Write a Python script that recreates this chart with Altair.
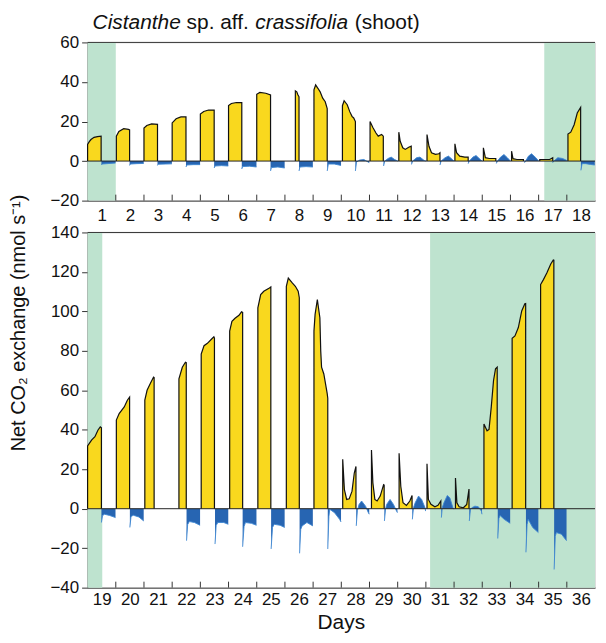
import altair as alt
import pandas as pd

# ---------------- data (time offset within day, net CO2 exchange) ----------------
TOP_LIGHT = [
    [(0.0, 8.4), (0.06, 9.8), (0.12, 10.9), (0.23, 12.0), (0.35, 12.4), (0.48, 12.6)],
    [(0.02, 12.6), (0.11, 15.0), (0.28, 16.4), (0.45, 16.0), (0.49, 15.8)],
    [(0.0, 16.7), (0.1, 18.0), (0.27, 18.8), (0.48, 18.6)],
    [(0.0, 19.3), (0.14, 21.4), (0.31, 22.3), (0.49, 22.3)],
    [(0.0, 23.8), (0.12, 25.1), (0.29, 25.8), (0.49, 25.8)],
    [(0.0, 28.1), (0.1, 29.1), (0.28, 29.6), (0.47, 29.6)],
    [(0.0, 33.8), (0.11, 34.7), (0.32, 34.3), (0.49, 33.5)],
    [(0.37, 35.5), (0.42, 35.0), (0.46, 33.5), (0.5, 32.5)],
    [(0.03, 36.0), (0.09, 38.5), (0.17, 36.8), (0.25, 35.0), (0.34, 31.8), (0.43, 30.0), (0.5, 26.5)],
    [(0.04, 28.0), (0.1, 30.5), (0.21, 28.5), (0.3, 25.0), (0.38, 22.6), (0.44, 21.8), (0.5, 20.0)],
    [(0.02, 20.0), (0.12, 17.0), (0.23, 14.2), (0.31, 12.6), (0.43, 13.4), (0.49, 12.6)],
    [(0.04, 14.6), (0.09, 10.0), (0.18, 6.7), (0.27, 5.9), (0.39, 7.0), (0.48, 7.5)],
    [(0.04, 13.4), (0.11, 7.5), (0.2, 4.2), (0.34, 3.4), (0.46, 3.7), (0.5, 4.2)],
    [(0.03, 8.7), (0.09, 4.2), (0.2, 2.5), (0.38, 2.0), (0.5, 2.0)],
    [(0.04, 6.7), (0.11, 1.7), (0.25, 1.3), (0.48, 1.3)],
    [(0.04, 5.0), (0.09, 1.2), (0.23, 0.8), (0.46, 0.8)],
    [(0.04, 0.8), (0.39, 0.8), (0.5, 1.7)],
    [(0.04, 13.7), (0.14, 14.6), (0.26, 18.4), (0.37, 24.3), (0.49, 27.1)],
]

TOP_DARK = [
    [(0.49, -2.0), (0.52, -1.5), (0.7, -1.3), (0.99, -1.0)],
    [(0.49, -2.2), (0.52, -1.5), (0.75, -1.3), (0.99, -1.2)],
    [(0.48, -2.2), (0.51, -1.6), (0.75, -1.5), (0.99, -1.4)],
    [(0.49, -3.0), (0.52, -2.0), (0.75, -1.8), (0.99, -1.8)],
    [(0.49, -3.5), (0.52, -2.5), (0.75, -2.3), (0.99, -2.5)],
    [(0.47, -4.0), (0.5, -2.8), (0.75, -2.6), (0.99, -3.0)],
    [(0.49, -5.0), (0.52, -3.3), (0.75, -3.0), (0.99, -3.5)],
    [(0.5, -5.0), (0.53, -3.0), (0.75, -2.8), (0.99, -3.0)],
    [(0.5, -5.0), (0.54, -1.5), (0.75, -1.5), (0.99, -2.2)],
    [(0.5, -5.0), (0.54, -0.5), (0.65, 0.5), (0.8, 0.8), (0.99, -0.8)],
    [(0.5, -2.5), (0.54, 0.0), (0.66, 1.3), (0.77, 2.0), (0.89, 0.8), (1.0, 0.0)],
    [(0.49, -1.7), (0.53, 0.0), (0.67, 1.7), (0.79, 2.0), (0.94, 0.3), (1.0, 0.0)],
    [(0.5, -2.0), (0.54, 0.0), (0.68, 1.7), (0.8, 2.5), (0.94, 0.8), (1.0, 0.0)],
    [(0.5, -1.3), (0.54, 0.0), (0.67, 2.0), (0.78, 2.8), (0.93, 0.8), (1.0, 0.0)],
    [(0.5, -1.2), (0.54, 0.0), (0.65, 2.0), (0.77, 3.3), (0.89, 1.7), (1.0, 0.0)],
    [(0.5, -0.8), (0.54, 0.0), (0.64, 2.5), (0.75, 3.7), (0.9, 1.7), (1.0, 0.0)],
    [(0.5, -0.8), (0.54, 0.0), (0.68, 1.7), (0.85, 1.3), (1.0, 0.3)],
    [(0.5, -4.7), (0.54, -1.3), (0.66, -1.3), (0.84, -1.7), (0.99, -2.0)],
]

BOTTOM_LIGHT = [
    [(0.0, 31.8), (0.14, 34.8), (0.26, 36.5), (0.37, 39.9), (0.45, 41.5), (0.49, 41.0)],
    [(0.02, 44.9), (0.12, 48.2), (0.3, 51.6), (0.41, 55.0), (0.49, 56.6)],
    [(0.03, 55.0), (0.11, 60.0), (0.22, 63.3), (0.34, 66.7), (0.36, 66.5)],
    [(0.24, 65.8), (0.36, 71.7), (0.47, 74.2), (0.5, 74.0)],
    [(0.03, 78.4), (0.13, 82.6), (0.25, 83.8), (0.4, 86.0), (0.48, 87.1), (0.5, 86.5)],
    [(0.04, 90.0), (0.12, 95.0), (0.23, 96.5), (0.37, 98.0), (0.46, 99.8), (0.5, 99.5)],
    [(0.04, 101.8), (0.14, 108.5), (0.25, 110.2), (0.45, 111.9), (0.5, 112.4)],
    [(0.05, 112.7), (0.12, 116.9), (0.26, 114.4), (0.37, 112.7), (0.47, 110.2), (0.51, 106.9)],
    [(0.03, 90.0), (0.07, 98.5), (0.15, 106.0), (0.24, 96.8), (0.27, 80.0), (0.3, 71.7), (0.38, 68.3), (0.5, 58.3), (0.52, 56.0)],
    [(0.05, 25.1), (0.11, 9.7), (0.19, 4.7), (0.28, 5.0), (0.38, 8.9), (0.46, 18.1), (0.52, 21.4)],
    [(0.07, 29.8), (0.12, 13.1), (0.19, 4.7), (0.27, 3.9), (0.38, 6.4), (0.5, 12.2), (0.52, 12.0)],
    [(0.05, 28.1), (0.11, 11.4), (0.19, 3.0), (0.31, 1.7), (0.43, 3.9), (0.51, 6.7)],
    [(0.04, 22.8), (0.09, 4.7), (0.18, 2.2), (0.32, 1.0), (0.43, 1.7), (0.53, 3.9)],
    [(0.05, 15.6), (0.1, 3.0), (0.18, 1.0), (0.33, 0.5), (0.45, 2.2), (0.53, 10.0)],
    [(0.06, 42.9), (0.17, 39.5), (0.24, 40.2), (0.32, 51.6), (0.4, 65.0), (0.47, 70.9), (0.53, 71.7)],
    [(0.06, 86.4), (0.16, 87.6), (0.28, 91.8), (0.4, 100.2), (0.51, 103.9), (0.54, 104.0)],
    [(0.07, 113.6), (0.17, 116.1), (0.29, 119.4), (0.43, 124.0), (0.52, 126.1), (0.54, 126.0)],
    [],
]

BOTTOM_DARK = [
    [(0.49, -7.0), (0.53, -3.5), (0.6, -2.8), (0.78, -3.4), (0.99, -4.5)],
    [(0.5, -9.5), (0.54, -4.0), (0.62, -3.3), (0.82, -4.2), (0.99, -6.2)],
    [],
    [(0.51, -16.2), (0.55, -8.0), (0.61, -6.5), (0.79, -7.0), (0.99, -8.4)],
    [(0.52, -17.9), (0.56, -8.5), (0.62, -7.0), (0.83, -7.0), (0.99, -7.9)],
    [(0.5, -19.3), (0.55, -9.0), (0.6, -7.0), (0.81, -7.4), (0.99, -8.4)],
    [(0.51, -20.4), (0.56, -9.5), (0.62, -7.9), (0.83, -8.4), (0.99, -9.5)],
    [(0.52, -22.6), (0.56, -10.5), (0.61, -8.7), (0.78, -7.0), (0.99, -8.7)],
    [(0.52, -20.4), (0.56, -4.0), (0.59, -0.3), (0.76, -2.0), (0.94, -5.4), (0.99, -6.7)],
    [(0.53, -8.7), (0.57, -1.0), (0.63, 2.2), (0.72, 3.9), (0.86, 1.3), (0.96, -2.0), (0.99, -2.8)],
    [(0.53, -6.2), (0.57, 0.0), (0.61, 2.2), (0.73, 4.7), (0.85, 2.2), (0.96, -1.2), (0.99, -2.0)],
    [(0.52, -5.4), (0.56, 0.5), (0.62, 3.0), (0.74, 6.4), (0.85, 4.7), (0.97, 0.5), (0.99, -1.2)],
    [(0.55, -4.5), (0.58, 0.5), (0.64, 3.0), (0.76, 6.7), (0.85, 5.5), (0.96, 0.5), (0.99, -0.3)],
    [(0.54, -6.2), (0.58, -0.5), (0.63, 0.5), (0.74, 1.3), (0.86, 1.0), (0.97, -1.2), (0.99, -2.8)],
    [(0.55, -15.1), (0.59, -5.0), (0.63, -3.4), (0.78, -5.4), (0.99, -7.4)],
    [(0.55, -22.1), (0.59, -8.0), (0.63, -5.4), (0.79, -9.5), (0.99, -12.1)],
    [(0.55, -30.8), (0.59, -14.0), (0.63, -12.1), (0.81, -12.9), (0.99, -16.2)],
    [],
]

TOP_GREEN_START = [0.0, 16.2]
TOP_GREEN_END = [1.0, 18.0]
BOTTOM_GREEN_START = [18.0, 30.15]
BOTTOM_GREEN_END = [18.52, 36.0]

TOP_YTICKS = [-20, 0, 20, 40, 60]
BOTTOM_YTICKS = [-40, -20, 0, 20, 40, 60, 80, 100, 120, 140]

# ---------------- style ----------------
YELLOW = "#F9D81E"
BLUE = "#2765B2"
BLUE_LINE = "#3C86D2"
GREEN = "#BEE3CF"
AXIS_COLOR = "#333333"
TEXT_COLOR = "#111111"
FONT = "Liberation Sans"
FS = 17      # tick labels
TFS = 21     # titles
YTFS = 20    # y-axis title
W = 510
H_TOP = 159
H_BOT = 357
SPACING = 32
LEFT_EXT = 79
TOP_EXT = 32


def build_frames(light, dark, d0):
    al, ll, ad, ld = [], [], [], []
    for i, pts in enumerate(light):
        base = d0 - 1 + i
        if not pts:
            continue
        seg = f"L{d0 + i}"
        for o, v in pts:
            al.append({"t": base + o, "v": v, "seg": seg})
        line_pts = [(pts[0][0], 0.0)] + pts + [(pts[-1][0], 0.0)]
        for k, (o, v) in enumerate(line_pts):
            ll.append({"t": base + o, "v": v, "seg": seg, "idx": k})
    for i, pts in enumerate(dark):
        base = d0 - 1 + i
        if not pts:
            continue
        seg = f"D{d0 + i}"
        for k, (o, v) in enumerate(pts):
            ad.append({"t": base + o, "v": v, "seg": seg, "idx": k})
            ld.append({"t": base + o, "v": v, "seg": seg, "idx": k})
    return (pd.DataFrame(al), pd.DataFrame(ll), pd.DataFrame(ad), pd.DataFrame(ld))


def panel(light, dark, d0, gstart, gend, ydom, yticks, H, bottom):
    al, ll, ad, ld = build_frames(light, dark, d0)
    xs = alt.Scale(domain=[d0 - 1, d0 + 17], nice=False, zero=False)
    ys = alt.Scale(domain=ydom, nice=False, zero=False)
    xaxis = alt.Axis(
        values=[d0 - 1 + i + 0.5 for i in range(18)],
        labelExpr="format(datum.value + 0.5, 'd')",
        ticks=False, tickSize=0, grid=False, title=None,
        domainColor=AXIS_COLOR, domainWidth=1,
        labelFontSize=FS, labelColor=TEXT_COLOR, labelFont=FONT,
        labelPadding=(4 if bottom else 7),
    )
    yaxis = alt.Axis(values=yticks, tickSize=6, grid=False, title=None,
                     domainColor=AXIS_COLOR, tickColor=AXIS_COLOR,
                     labelFontSize=FS, labelColor=TEXT_COLOR, labelFont=FONT,
                     labelPadding=3)

    def X(f):
        return alt.X(f, scale=xs, axis=xaxis, title=None)

    def Y(f):
        return alt.Y(f, scale=ys, axis=yaxis, stack=None, title=None)

    gdf = pd.DataFrame({"s": gstart, "e": gend})
    green = alt.Chart(gdf).mark_rect(color=GREEN).encode(
        x=X("s:Q"), x2="e:Q", y=alt.value(0), y2=alt.value(H))

    area_l = alt.Chart(al).mark_area(color=YELLOW, interpolate="linear").encode(
        x=X("t:Q"), y=Y("v:Q"), y2=alt.datum(0), detail="seg:N")
    area_d = alt.Chart(ad).mark_area(color=BLUE, interpolate="linear").encode(
        x=X("t:Q"), y=Y("v:Q"), y2=alt.datum(0), detail="seg:N")
    line_d = alt.Chart(ld).mark_line(color=BLUE_LINE, strokeWidth=0.9).encode(
        x=X("t:Q"), y=Y("v:Q"), detail="seg:N", order="idx:Q")
    line_l = alt.Chart(ll).mark_line(color=TEXT_COLOR, strokeWidth=1.2).encode(
        x=X("t:Q"), y=Y("v:Q"), detail="seg:N", order="idx:Q")

    zero = alt.Chart(pd.DataFrame({"v": [0.0]})).mark_rule(
        color="#222222", strokeWidth=1).encode(y=Y("v:Q"))

    tdf = pd.DataFrame({"d": [d0 - 1 + i for i in range(1, 18)]})
    ticks = alt.Chart(tdf).mark_rule(color=AXIS_COLOR, strokeWidth=1).encode(
        x=X("d:Q"), y=alt.value(H - 6), y2=alt.value(H))

    one = pd.DataFrame({"a": [0]})
    border = alt.Chart(one).mark_rule(color=AXIS_COLOR, strokeWidth=1).encode(
        x=alt.value(0), x2=alt.value(W), y=alt.value(0))

    layers = [green, area_l, area_d, line_d, line_l, zero, ticks, border]

    if not bottom:
        pieces = [("Cistanthe", "italic", 5), ("sp. aff.", "normal", 99.5),
                  ("crassifolia", "italic", 168.5), ("(shoot)", "normal", 268.5)]
        for txt, style, px in pieces:
            layers.append(alt.Chart(one).mark_text(
                text=txt, fontStyle=style, align="left", baseline="middle",
                fontSize=TFS, font=FONT, color=TEXT_COLOR, x=px, y=-19))
        # invisible anchor fixing the chart's top-left extent
        layers.append(alt.Chart(one).mark_rule(color="white", opacity=0).encode(
            x=alt.value(-LEFT_EXT), x2=alt.value(-LEFT_EXT + 1),
            y=alt.value(-TOP_EXT)))
    else:
        layers.append(alt.Chart(one).mark_text(
            text="Net CO\u2082 exchange (nmol s\u207b\u00b9)", angle=270,
            align="center", baseline="middle", fontSize=YTFS, font=FONT,
            color=TEXT_COLOR, x=-(LEFT_EXT - 10.5), y=91))
        layers.append(alt.Chart(one).mark_text(
            text="Days", align="center", baseline="middle", fontSize=TFS,
            font=FONT, color=TEXT_COLOR, x=W / 2, y=H + 36))

    return alt.layer(*layers).properties(width=W, height=H)


top = panel(TOP_LIGHT, TOP_DARK, 1, TOP_GREEN_START, TOP_GREEN_END,
            [-20, 60], TOP_YTICKS, H_TOP, False)
bottom = panel(BOTTOM_LIGHT, BOTTOM_DARK, 19, BOTTOM_GREEN_START, BOTTOM_GREEN_END,
               [-40, 140], BOTTOM_YTICKS, H_BOT, True)

chart = alt.vconcat(top, bottom, spacing=SPACING).properties(
    bounds="flush",
    padding={"left": 0, "top": 0, "right": 0, "bottom": 0},
).configure_view(stroke=None).configure(font=FONT)

chart.save("out.html", embed_options={"renderer": "svg", "actions": False})
